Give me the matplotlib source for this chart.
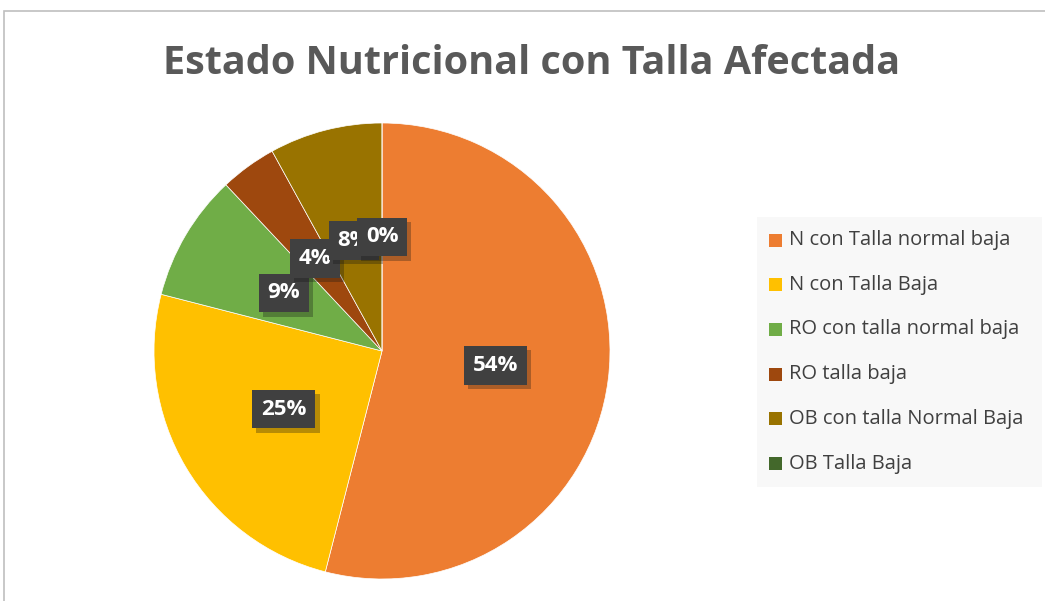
import matplotlib
matplotlib.use("Agg")
import matplotlib.pyplot as plt
from matplotlib.patches import Rectangle
import matplotlib.patheffects as pe

title = "Estado Nutricional con Talla Afectada"
categories = ["N con Talla normal baja", "N con Talla Baja", "RO con talla normal baja",
              "RO talla baja", "OB con talla Normal Baja", "OB Talla Baja"]
values = [54, 25, 9, 4, 8, 0]
labels = ["54%", "25%", "9%", "4%", "8%", "0%"]
colors = ["#ED7D31", "#FFC000", "#70AD47", "#9E480E", "#997300", "#43682B"]

W, H = 1045, 601
fig = plt.figure(figsize=(W / 100, H / 100), dpi=100)
fig.patch.set_facecolor("white")

# outer chart border
fig.patches.append(Rectangle((4 / W, -0.01), 1.1, (H - 11) / H + 0.01, transform=fig.transFigure,
                             fill=False, edgecolor="#BFBFBF", linewidth=1.2))

cx, cy, r = 382, 351, 228
ax = fig.add_axes([(cx - r) / W, (H - cy - r) / H, 2 * r / W, 2 * r / H])
wedges, texts = ax.pie(values, colors=colors, startangle=90, counterclock=False,
                       labels=labels, labeldistance=0.5,
                       wedgeprops=dict(edgecolor="white", linewidth=0.5))
ax.set_xlim(-1, 1)
ax.set_ylim(-1, 1)
ax.set_aspect("equal")
ax.axis("off")

for t in texts:
    t.set_color("white")
    t.set_fontsize(16)
    t.set_fontweight("bold")
    t.set_family(["Open Sans", "DejaVu Sans"])
    t.set_ha("center")
    t.set_va("center")
    t.set_bbox(dict(boxstyle="square,pad=0.4", fc="#404040", ec="none"))
    t.get_bbox_patch().set_path_effects([pe.SimplePatchShadow(offset=(3, -3), alpha=0.3),
                                         pe.Normal()])

fig.text(532 / W, 1 - 63 / H, title, ha="center", va="center", fontsize=28.5,
         fontweight="bold", color="#595959", family=["Open Sans", "DejaVu Sans"])

# legend
fig.patches.append(Rectangle((757 / W, 1 - 487 / H), (1042 - 757) / W, (487 - 217) / H,
                             transform=fig.transFigure, facecolor="#F8F8F8", edgecolor="none"))
y0, dy = 240, 44.7
for i, (name, col) in enumerate(zip(categories, colors)):
    y = y0 + i * dy
    fig.patches.append(Rectangle((769 / W, 1 - (y + 6.5) / H), 13 / W, 13 / H,
                                 transform=fig.transFigure, facecolor=col, edgecolor="none"))
    fig.text(789 / W, 1 - y / H, name, ha="left", va="center", fontsize=14.5,
             color="#404040", family=["Open Sans", "DejaVu Sans"])

fig.savefig("out.png", dpi=100)
